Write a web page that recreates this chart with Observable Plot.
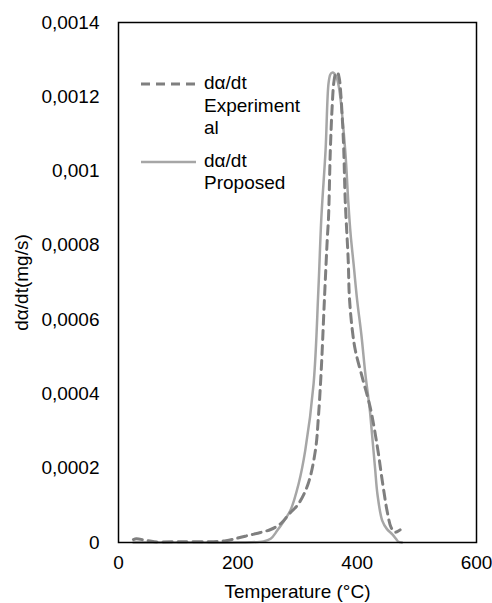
<!DOCTYPE html>
<html>
<head>
<meta charset="utf-8">
<script src="https://cdn.jsdelivr.net/npm/d3@7"></script>
<script src="https://cdn.jsdelivr.net/npm/@observablehq/plot@0.6"></script>
<style>
  html, body { margin: 0; padding: 0; background: #fff; }
  #wrap { position: relative; width: 492px; height: 603px; font-family: "Liberation Sans", Arial, sans-serif; }
  #legend { position: absolute; left: 140px; top: 72px; font-size: 19px; color: #000; line-height: 22.5px; }
  .item { display: flex; align-items: flex-start; margin-bottom: 10px; }
  .item svg { flex: none; margin-top: 4px; }
  .item div { margin-left: 7px; }
</style>
</head>
<body>
<div id="wrap"></div>
<script>
// Experimental dα/dt
const tempExp = [25, 30, 45, 60, 100, 150, 180, 200, 220, 238, 255, 272, 285, 302, 318, 330, 335, 340, 345, 350, 352, 355, 358, 361, 364, 367, 370, 372, 377, 380, 385, 387, 392, 397, 410, 422, 434, 442, 451, 457, 463, 468, 472];
const valExp = [0.000008, 0.00001, 0.000006, 0.000002, 0.000002, 0.000002, 0.000005, 0.000012, 0.00002, 0.000027, 0.000035, 0.000051, 0.000075, 0.000105, 0.000159, 0.000248, 0.000337, 0.000471, 0.00065, 0.00082, 0.000875, 0.001055, 0.00117, 0.00124, 0.001262, 0.001265, 0.00125, 0.00122, 0.00108, 0.00092, 0.00076, 0.00066, 0.00057, 0.000517, 0.000436, 0.000363, 0.000256, 0.000167, 0.000078, 0.00004, 0.000028, 0.00003, 0.000034];
// Proposed dα/dt
const tempProp = [25, 100, 200, 243, 255, 266, 278, 288, 302, 313, 327, 335, 340, 347, 352, 355, 358, 362, 366, 370, 380, 385, 389, 394, 400, 407, 414, 421, 425, 430, 434, 442, 450, 459, 465, 469, 475];
const valProp = [0, 0, 0, 0.000003, 0.00001, 0.000032, 0.00006, 0.000086, 0.000159, 0.000248, 0.000428, 0.00068, 0.000875, 0.001055, 0.001236, 0.00126, 0.001265, 0.001262, 0.00125, 0.00122, 0.001055, 0.00092, 0.00083, 0.00075, 0.000652, 0.00056, 0.00045, 0.00036, 0.00029, 0.0002, 0.00013, 0.000059, 0.000036, 0.000022, 0.00001, 0.000002, 0];

const xTicks = [0, 200, 400, 600];
const yTicks = [0, 0.0002, 0.0004, 0.0006, 0.0008, 0.001, 0.0012, 0.0014];
const yTickLabels = ["0", "0,0002", "0,0004", "0,0006", "0,0008", "0,001", "0,0012", "0,0014"];
const xTitle = "Temperature (°C)";
const yTitle = "dα/dt(mg/s)";

const expData = tempExp.map((t, i) => ({t, v: valExp[i]}));
const propData = tempProp.map((t, i) => ({t, v: valProp[i]}));

const chart = Plot.plot({
  width: 492,
  height: 603,
  marginLeft: 118,
  marginRight: 16,
  marginTop: 22,
  marginBottom: 61,
  style: {fontFamily: "'Liberation Sans', Arial, sans-serif", fontSize: "19px", color: "#000", background: "#fff"},
  x: {domain: [0, 600]},
  y: {domain: [0, 0.0014]},
  marks: [
    Plot.axisX({ticks: xTicks, tickSize: 0, tickPadding: 13, fontSize: 19, label: xTitle, labelAnchor: "center", labelArrow: "none", labelOffset: 55}),
    Plot.axisY({ticks: yTicks, tickFormat: (d) => yTickLabels[yTicks.indexOf(d)], tickSize: 0, tickPadding: 19, fontSize: 19, label: yTitle, labelAnchor: "center", labelArrow: "none", labelOffset: 104}),
    Plot.line(propData, {x: "t", y: "v", stroke: "#a6a6a6", strokeWidth: 2.5, curve: "catmull-rom"}),
    Plot.line(expData, {x: "t", y: "v", stroke: "#7f7f7f", strokeWidth: 3, strokeDasharray: "9,6", curve: "catmull-rom"}),
    Plot.frame({stroke: "#000", strokeWidth: 1.5})
  ]
});

const wrap = document.getElementById("wrap");
wrap.appendChild(chart);

const legend = document.createElement("div");
legend.id = "legend";
legend.innerHTML = `
  <div class="item"><svg width="57" height="16"><line x1="1" y1="8" x2="56" y2="8" stroke="#7f7f7f" stroke-width="3" stroke-dasharray="9,6"/></svg><div>dα/dt<br>Experiment<br>al</div></div>
  <div class="item"><svg width="57" height="16"><line x1="1" y1="8" x2="56" y2="8" stroke="#a6a6a6" stroke-width="2.5"/></svg><div>dα/dt<br>Proposed</div></div>`;
wrap.appendChild(legend);
</script>
</body>
</html>
